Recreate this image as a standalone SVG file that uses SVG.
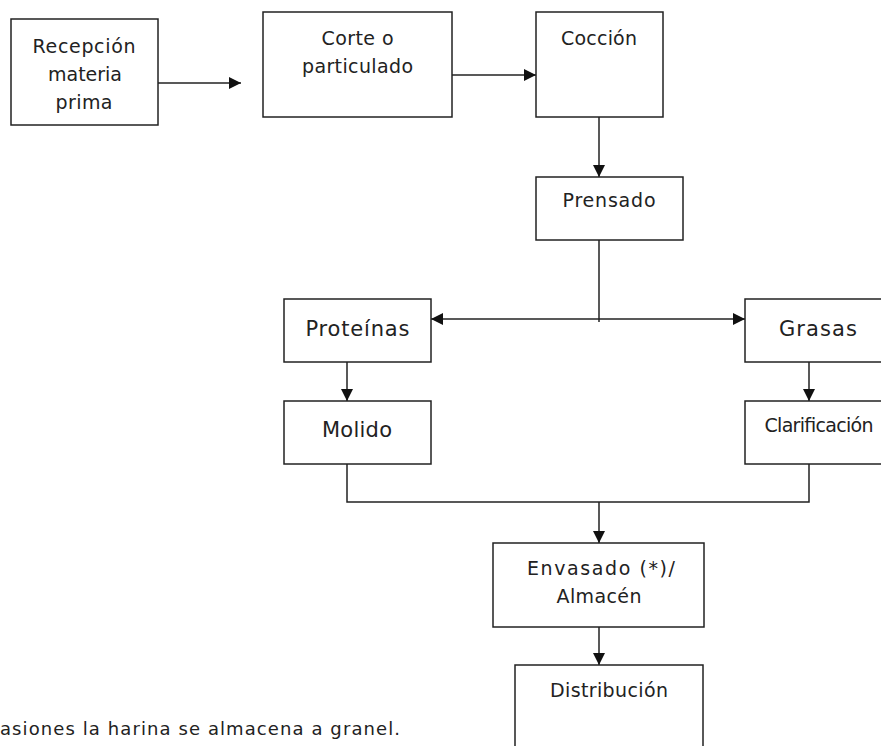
<svg xmlns="http://www.w3.org/2000/svg" width="881" height="746" viewBox="0 0 881 746">
  <defs>
    <marker id="arrow" markerUnits="userSpaceOnUse" markerWidth="14" markerHeight="12" refX="12" refY="6" orient="auto">
      <path d="M0,0 L12,6 L0,12 Z" fill="#111"/>
    </marker>
    <style>
      .box rect { fill: #fff; stroke: #222; stroke-width: 1.5; }
      .box text, .note { font-family: "DejaVu Sans", Verdana, sans-serif; font-size: 19px; fill: #222; }
      .box text { text-anchor: middle; }
      .box text.big { font-size: 21px; }
      .note { font-size: 18px; }
      .conn { fill: none; stroke: #222; stroke-width: 1.5; }
      .conn .arr { marker-end: url(#arrow); }
    </style>
  </defs>
  <rect width="881" height="746" fill="#fff"/>

  <g class="conn">
    <line class="arr" x1="158" y1="83" x2="241" y2="83"/>
    <line class="arr" x1="452" y1="75" x2="536" y2="75"/>
    <line class="arr" x1="599" y1="117" x2="599" y2="177"/>
    <line x1="599" y1="240" x2="599" y2="322"/>
    <line class="arr" x1="599" y1="319" x2="431" y2="319"/>
    <line class="arr" x1="599" y1="319" x2="745" y2="319"/>
    <line class="arr" x1="347" y1="362" x2="347" y2="401"/>
    <line class="arr" x1="809" y1="362" x2="809" y2="401"/>
    <polyline points="347,464 347,502 809,502 809,464"/>
    <line class="arr" x1="599" y1="502" x2="599" y2="543"/>
    <line class="arr" x1="599" y1="627" x2="599" y2="665"/>
  </g>

  <g id="recepcion" class="box">
    <rect x="11" y="19" width="147" height="106"/>
    <text x="84" y="53" textLength="103">Recepción</text>
    <text x="85" y="81" textLength="74">materia</text>
    <text x="84" y="109" textLength="57">prima</text>
  </g>
  <g id="corte" class="box">
    <rect x="263" y="12" width="189" height="105"/>
    <text x="357.5" y="45" textLength="72">Corte o</text>
    <text x="357.5" y="73" textLength="111">particulado</text>
  </g>
  <g id="coccion" class="box">
    <rect x="536" y="12" width="127" height="105"/>
    <text x="599" y="45" textLength="76">Cocción</text>
  </g>
  <g id="prensado" class="box">
    <rect x="536" y="177" width="147" height="63"/>
    <text x="609" y="207" textLength="93">Prensado</text>
  </g>
  <g id="proteinas" class="box">
    <rect x="284" y="299" width="147" height="63"/>
    <text class="big" x="357.5" y="336" textLength="104">Proteínas</text>
  </g>
  <g id="grasas" class="box">
    <rect x="745" y="299" width="147" height="63"/>
    <text class="big" x="818" y="336" textLength="78">Grasas</text>
  </g>
  <g id="molido" class="box">
    <rect x="284" y="401" width="147" height="63"/>
    <text class="big" x="357" y="437" textLength="70">Molido</text>
  </g>
  <g id="clarificacion" class="box">
    <rect x="745" y="401" width="147" height="63"/>
    <text x="819" y="432" textLength="109">Clarificación</text>
  </g>
  <g id="envasado" class="box">
    <rect x="493" y="543" width="211" height="84"/>
    <text x="601" y="575" textLength="148">Envasado (*)/</text>
    <text x="599" y="603" textLength="85">Almacén</text>
  </g>
  <g id="distribucion" class="box">
    <rect x="515" y="665" width="188" height="100"/>
    <text x="609" y="697" textLength="118">Distribución</text>
  </g>

  <text class="note" x="0" y="735" textLength="400">asiones la harina se almacena a granel.</text>
</svg>
